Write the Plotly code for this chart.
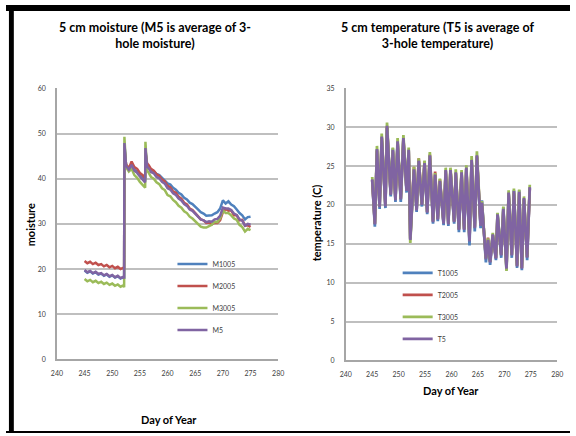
import plotly.graph_objects as go

# ---------------- 5 cm soil moisture ----------------
day_m = [245.0, 245.5, 246.0, 246.5, 247.0, 247.5, 248.0, 248.5, 249.0, 249.5,
         250.0, 250.5, 251.0, 251.5, 252.0, 252.15, 252.2, 252.5, 253.0, 253.5,
         254.0, 254.5, 255.0, 255.5, 255.95, 256.0, 256.3, 256.6, 257.0, 257.5,
         258.0, 258.5, 259.0, 259.5, 260.0, 260.5, 261.0, 261.5, 262.0, 262.5,
         263.0, 263.5, 264.0, 264.5, 265.0, 265.5, 266.0, 266.5, 267.0, 267.5,
         268.0, 268.5, 269.0, 269.5, 270.0, 270.5, 271.0, 271.5, 272.0, 272.5,
         273.0, 273.5, 274.0, 274.5, 275.0]

M1005 = [19.7, 19.2, 19.5, 19.0, 19.3, 18.8, 19.0, 18.5, 18.8, 18.3,
         18.6, 18.1, 18.4, 17.9, 18.2, 17.8, 47.6, 43.0, 42.0, 43.2,
         42.0, 41.6, 40.8, 40.3, 39.6, 46.4, 43.0, 42.6, 42.0, 41.7,
         41.1, 40.8, 40.2, 39.8, 39.0, 38.7, 38.0, 37.6, 36.9, 36.5,
         35.8, 35.4, 34.7, 34.4, 33.7, 33.2, 32.6, 32.3, 31.8, 31.9,
         31.9, 32.3, 32.6, 33.4, 35.2, 34.5, 35.0, 34.3, 33.9, 33.2,
         32.4, 31.9, 31.0, 31.5, 31.6]

M2005 = [21.8, 21.3, 21.6, 21.1, 21.4, 20.9, 21.1, 20.6, 20.9, 20.4,
         20.7, 20.2, 20.5, 20.0, 20.3, 19.9, 46.8, 43.2, 42.3, 43.8,
         42.6, 42.2, 41.3, 40.8, 40.1, 45.8, 43.4, 43.0, 42.2, 41.8,
         41.0, 40.6, 39.8, 39.4, 38.4, 38.1, 37.2, 36.9, 36.0, 35.6,
         34.7, 34.3, 33.4, 33.1, 32.4, 31.8, 31.0, 30.8, 30.2, 30.3,
         29.9, 30.2, 30.2, 30.8, 32.6, 33.3, 32.9, 33.0, 31.9, 31.9,
         30.8, 30.9, 29.6, 29.7, 29.3]

M3005 = [17.8, 17.3, 17.6, 17.1, 17.4, 16.9, 17.2, 16.7, 17.0, 16.5,
         16.8, 16.3, 16.6, 16.1, 16.4, 16.0, 49.3, 42.6, 41.6, 42.2,
         40.8, 40.2, 39.3, 38.7, 38.0, 48.2, 41.8, 41.3, 40.4, 40.0,
         39.2, 38.8, 37.9, 37.5, 36.4, 36.1, 35.3, 34.8, 34.0, 33.6,
         32.8, 32.4, 31.6, 31.2, 30.6, 30.2, 29.4, 29.2, 29.2, 29.5,
         29.8, 30.5, 30.4, 31.2, 33.0, 32.4, 32.4, 31.9, 31.2, 30.9,
         29.8, 29.3, 28.3, 28.9, 28.6]

M5 = [19.8, 19.3, 19.6, 19.1, 19.4, 18.9, 19.1, 18.6, 18.9, 18.4,
      18.7, 18.2, 18.5, 18.0, 18.3, 17.9, 47.9, 42.9, 42.0, 43.1,
      41.8, 41.3, 40.5, 39.9, 39.2, 46.8, 42.7, 42.3, 41.5, 41.2,
      40.4, 40.1, 39.3, 38.9, 37.9, 37.6, 36.8, 36.4, 35.6, 35.2,
      34.4, 34.0, 33.2, 32.9, 32.2, 31.7, 31.0, 30.8, 30.4, 30.6,
      30.5, 31.0, 31.1, 31.8, 33.6, 33.4, 33.4, 33.1, 32.3, 32.0,
      31.0, 30.7, 29.6, 30.0, 29.8]

# ---------------- 5 cm soil temperature (daily highs / lows) ----------------
day_t = [245.0, 245.5, 245.9, 246.4, 246.8, 247.5, 247.8, 248.5, 248.9, 249.4,
         249.8, 250.4, 250.9, 251.5, 251.9, 252.2, 252.9, 253.4, 253.8, 254.4,
         254.9, 255.4, 255.9, 256.5, 256.9, 257.4, 257.8, 258.5, 258.9, 259.4,
         259.8, 260.5, 260.8, 261.4, 261.9, 262.4, 262.8, 263.4, 263.8, 264.4,
         264.8, 265.5, 265.75, 266.5, 266.9, 267.3, 267.8, 268.4, 268.7, 269.4,
         269.8, 270.4, 270.8, 271.4, 271.8, 272.4, 272.8, 273.3, 273.7, 274.3,
         274.8]

T1005 = [23.2, 17.2, 27.1, 19.5, 28.6, 19.6, 30.0, 21.1, 27.3, 20.4,
         28.1, 20.4, 28.4, 21.6, 27.0, 15.6, 24.5, 19.1, 25.6, 19.8,
         25.3, 18.8, 26.3, 17.6, 23.8, 17.9, 23.0, 17.4, 24.4, 17.3,
         24.4, 17.6, 24.1, 16.5, 24.1, 16.5, 24.7, 14.8, 25.7, 16.6,
         26.2, 17.0, 20.6, 12.6, 15.4, 12.3, 16.1, 12.9, 18.9, 13.2,
         19.7, 11.6, 21.5, 13.2, 21.9, 11.9, 21.9, 11.6, 20.8, 12.9,
         22.2]

T2005 = [23.2, 17.6, 27.0, 19.8, 28.7, 19.9, 30.1, 21.4, 26.9, 20.7,
         28.0, 20.8, 28.5, 21.9, 26.9, 15.7, 24.9, 19.4, 26.0, 20.1,
         25.6, 19.1, 26.5, 17.9, 24.3, 18.2, 23.3, 17.7, 24.4, 17.6,
         24.5, 17.9, 24.1, 16.9, 24.1, 16.9, 24.7, 15.6, 25.6, 17.2,
         26.3, 17.4, 20.1, 13.2, 15.8, 12.7, 16.1, 13.2, 18.6, 13.6,
         19.3, 11.9, 21.5, 13.6, 21.6, 12.2, 21.5, 11.9, 20.7, 13.3,
         22.1]

T3005 = [23.6, 17.6, 27.6, 19.8, 29.2, 19.9, 30.6, 21.4, 27.4, 20.7,
         28.6, 20.8, 29.0, 21.9, 27.4, 15.1, 24.9, 19.4, 26.0, 20.1,
         25.7, 19.1, 26.8, 17.9, 24.1, 18.2, 23.4, 17.7, 24.8, 17.6,
         24.8, 17.9, 24.6, 16.9, 24.5, 16.9, 25.1, 15.4, 26.3, 17.1,
         26.9, 17.4, 20.5, 13.1, 15.7, 12.7, 16.4, 13.2, 19.0, 13.6,
         19.8, 11.5, 21.9, 13.6, 22.1, 12.2, 22.0, 11.9, 21.1, 13.3,
         22.6]

T5 = [23.3, 17.5, 27.2, 19.7, 28.8, 19.8, 30.2, 21.3, 27.1, 20.6,
      28.2, 20.7, 28.6, 21.8, 27.1, 15.5, 24.6, 19.3, 25.7, 20.0,
      25.4, 19.0, 26.4, 17.8, 23.9, 18.1, 23.1, 17.6, 24.5, 17.5,
      24.5, 17.8, 24.2, 16.8, 24.2, 16.8, 24.8, 15.3, 25.8, 17.0,
      26.4, 17.3, 20.3, 13.0, 15.5, 12.6, 16.2, 13.1, 18.8, 13.5,
      19.5, 11.8, 21.6, 13.5, 21.8, 12.1, 21.7, 11.8, 20.9, 13.2,
      22.3]

moist_names = ["M1005", "M2005", "M3005", "M5"]
moist_series = [M1005, M2005, M3005, M5]
temp_names = ["T1005", "T2005", "T3005", "T5"]
temp_series = [T1005, T2005, T3005, T5]
colors = ["#4F81BD", "#C0504D", "#9BBB59", "#8064A2"]

FONT = "Lato, 'Open Sans', sans-serif"
TICK_FONT = dict(family=FONT, size=7, color="#404040")
GRID = "#BFBFBF"

fig = go.Figure()

for name, ys, col in zip(moist_names, moist_series, colors):
    fig.add_trace(go.Scatter(
        x=day_m, y=ys, name=name, mode="lines",
        line=dict(color=col, width=2.5),
        xaxis="x", yaxis="y", legend="legend", legendgroup=name,
    ))

for name, ys, col in zip(temp_names, temp_series, colors):
    fig.add_trace(go.Scatter(
        x=day_t, y=ys, name=name, mode="lines",
        line=dict(color=col, width=2.75),
        xaxis="x2", yaxis="y2", legend="legend2", legendgroup=name,
    ))

W, H = 576, 436


def px(x):
    return x / W


def py(y):
    return 1 - y / H


xaxis_common = dict(
    range=[240, 280], tick0=240, dtick=5, showgrid=False, zeroline=False,
    showline=True, linecolor="#A6A6A6", linewidth=1.5, ticks="",
    tickfont=TICK_FONT, ticklabelstandoff=6, fixedrange=True,
)
yaxis_common = dict(
    showgrid=True, gridcolor=GRID, gridwidth=1.5, zeroline=False,
    showline=True, linecolor="#A6A6A6", linewidth=1.5, ticks="",
    tickfont=TICK_FONT, ticklabelstandoff=8, fixedrange=True,
)

legend_common = dict(
    font=dict(family=FONT, size=7, color="#404040"),
    bgcolor="rgba(0,0,0,0)", borderwidth=0, tracegroupgap=3,
    xanchor="left", yanchor="top", itemclick=False, itemdoubleclick=False,
)

fig.update_layout(
    width=W, height=H, margin=dict(l=0, r=0, t=0, b=0),
    paper_bgcolor="white", plot_bgcolor="white",
    font=dict(family=FONT, color="#000000"),
    xaxis=dict(domain=[px(52), px(278)], anchor="y", **xaxis_common),
    yaxis=dict(domain=[py(361), py(85)], anchor="x", range=[0, 60], dtick=10,
               **yaxis_common),
    xaxis2=dict(domain=[px(347), px(563)], anchor="y2", **xaxis_common),
    yaxis2=dict(domain=[py(362), py(85)], anchor="x2", range=[0, 35], dtick=5,
                **yaxis_common),
    legend=dict(x=px(170), y=py(249), **legend_common),
    legend2=dict(x=px(400), y=py(258), **legend_common),
    showlegend=True,
)

bold = dict(family=FONT, size=12.5, color="#000000", weight="bold")
axis_bold = dict(family=FONT, size=11, color="#000000", weight="bold")

annotations = [
    dict(text="5 cm moisture (M5 is average of 3-<br>hole moisture)",
         x=px(152), y=py(31), xref="paper", yref="paper", showarrow=False,
         font=bold, align="center", xanchor="center", yanchor="middle"),
    dict(text="5 cm temperature (T5 is average of<br>3-hole temperature)",
         x=px(441), y=py(31), xref="paper", yref="paper", showarrow=False,
         font=bold, align="center", xanchor="center", yanchor="middle"),
    dict(text="moisture", x=px(25), y=py(224), xref="paper", yref="paper",
         showarrow=False, textangle=-90, font=axis_bold,
         xanchor="center", yanchor="middle"),
    dict(text="temperature (C)", x=px(318), y=py(222), xref="paper", yref="paper",
         showarrow=False, textangle=-90, font=axis_bold,
         xanchor="center", yanchor="middle"),
    dict(text="Day of Year", x=px(166), y=py(422), xref="paper", yref="paper",
         showarrow=False, font=axis_bold, xanchor="center", yanchor="middle"),
    dict(text="Day of Year", x=px(454), y=py(393), xref="paper", yref="paper",
         showarrow=False, font=axis_bold, xanchor="center", yanchor="middle"),
]
fig.update_layout(annotations=annotations)

# black frame around the sheet
frame = [
    dict(x0=0, x1=1, y0=py(6), y1=1),
    dict(x0=px(3), x1=px(8), y0=0, y1=1),
    dict(x0=0, x1=1, y0=0, y1=py(434)),
]
fig.update_layout(shapes=[
    dict(type="rect", xref="paper", yref="paper", fillcolor="black",
         line=dict(width=0), layer="above", **s) for s in frame
])

fig.write_html("out.html", config={"displayModeBar": False})
